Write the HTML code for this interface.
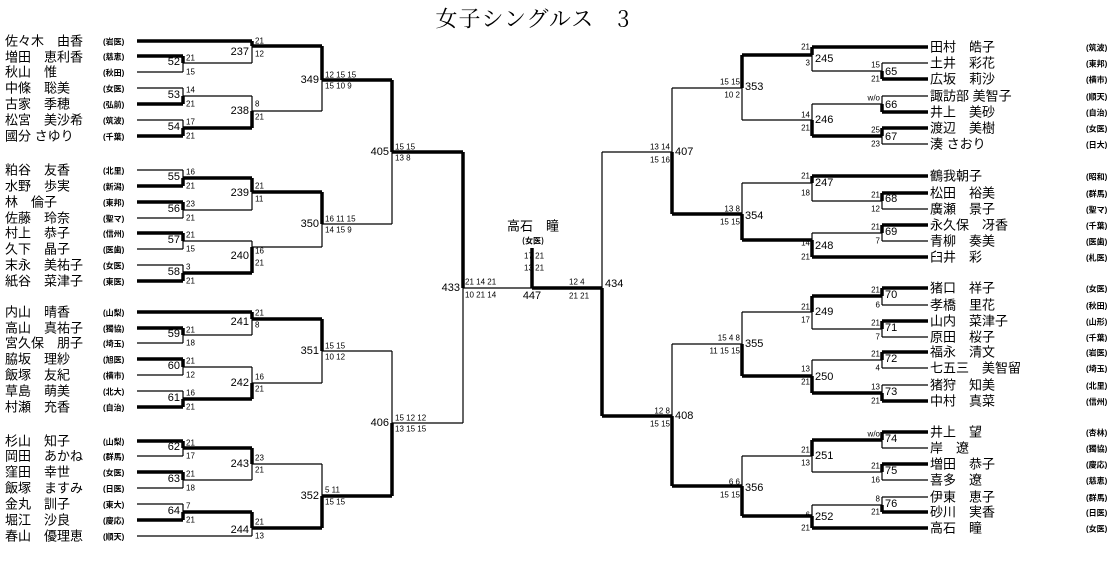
<!DOCTYPE html>
<html><head><meta charset="utf-8"><style>
html,body{margin:0;padding:0;background:#fff;}
svg{display:block;}
.t{stroke:#000;stroke-width:1.2;fill:none;}
.k{stroke:#000;stroke-width:3.5;fill:none;}
text{font-family:"Liberation Sans","Noto Sans CJK JP",sans-serif;fill:#000;dominant-baseline:central;}
.nm{font-size:13px;font-family:"Noto Sans CJK JP","Liberation Sans",sans-serif;}
.af{font-size:8px;font-weight:bold;font-family:"Noto Sans CJK JP",sans-serif;}
.n{font-size:11px;}
.s{font-size:8px;}
.e{text-anchor:end;}
.m{text-anchor:middle;}
</style></head><body>
<svg width="1120" height="561" viewBox="0 0 1120 561" xmlns="http://www.w3.org/2000/svg">
<text x="533" y="18" class="m" style="font-size:22px;letter-spacing:1px;font-family:'Noto Serif CJK SC',serif">女子シングルス　3</text>

<!-- LEFT lines -->
<path class="t" d="M137 72H183M137 88H183M137 120H183M137 170H183M137 218H183M137 249H183M137 265H183M137 343H183M137 375H183M137 391H183M137 456H183M137 488H183M137 504H183M137 536H252
M183 56V72M183 88V104M183 120V136M183 170V186M183 202V218M183 233V249M183 265V281M183 328V343M183 359V375M183 391V407M183 441V456M183 472V488M183 504V520
M183 63H252M183 96H252M183 210H252M183 241H252M183 335H252M183 367H252M183 480H252
M252 41V63M252 96V128M252 178V210M252 241V273M252 312V335M252 367V399M252 448V480M252 512V536
M252 111H322M252 247H322M252 383H322M252 464H322
M322 46V111M322 192V247M322 319V383M322 464V528
M322 224H392M322 351H392
M392 80V224M392 351V496M392 423H463
M463 152V423M463 288H532"/>
<path class="k" d="M137 41H252M137 56H183M137 104H183M137 136H183M137 186H183M137 202H183M137 233H183M137 281H183M137 312H252M137 328H183M137 359H183M137 407H183M137 441H183M137 472H183M137 520H183
M183 56V63M183 104V96M183 136V128M183 186V178M183 202V210M183 233V241M183 281V273M183 328V335M183 359V367M183 407V399M183 441V448M183 472V480M183 520V512
M183 128H252M183 178H252M183 273H252M183 399H252M183 448H252M183 512H252
M252 41V46M252 128V111M252 178V192M252 273V247M252 312V319M252 399V383M252 448V464M252 512V528
M252 46H322M252 192H322M252 319H322M252 528H322
M322 46V80M322 192V224M322 319V351M322 528V496
M322 80H392M322 496H392
M392 80V152M392 496V423M392 152H463
M463 152V288
M532 248V288M532 288H602"/>

<!-- RIGHT lines -->
<path class="t" d="M602 152V416M672 88V214M672 344V486M672 152H602
M742 55V120M742 183V240M742 312V376M742 456V516M742 88H672M742 344H672
M812 47V71M812 104V136M812 176V201M812 233V257M812 296V329M812 360V393M812 440V472M812 505V528
M812 120H742M812 183H742M812 312H742M812 456H742
M882 63V79M882 96V112M882 128V144M882 193V209M882 225V241M882 288V305M882 321V337M882 352V368M882 385V401M882 432V448M882 464V480M882 497V512
M882 71H812M882 104H812M882 201H812M882 233H812M882 329H812M882 360H812M882 472H812M882 505H812
M882 63H928M882 96H928M882 144H928M882 209H928M882 241H928M882 305H928M882 337H928M882 368H928M882 385H928M882 448H928M882 480H928M882 497H928"/>
<path class="k" d="M602 416V288M672 214V152M672 486V416M672 416H602
M742 55V88M742 240V214M742 376V344M742 516V486M742 214H672M742 486H672
M812 47V55M812 136V120M812 176V183M812 257V240M812 296V312M812 393V376M812 440V456M812 528V516
M812 55H742M812 240H742M812 376H742M812 516H742
M882 79V71M882 112V104M882 128V136M882 193V201M882 225V233M882 288V296M882 321V329M882 352V360M882 401V393M882 432V440M882 464V472M882 512V505
M882 136H812M882 296H812M882 393H812M882 440H812
M812 47H928M882 79H928M882 112H928M882 128H928M812 176H928M882 193H928M882 225H928M812 257H928M882 288H928M882 321H928M882 352H928M882 401H928M882 432H928M882 464H928M882 512H928M812 528H928"/>

<!-- LEFT names -->
<g class="nm">
<text x="5" y="41">佐々木　由香</text><text x="5" y="57">増田　恵利香</text><text x="5" y="72">秋山　惟</text><text x="5" y="88">中條　聡美</text><text x="5" y="104">古家　季穂</text><text x="5" y="120">松宮　美沙希</text><text x="5" y="136">國分 さゆり</text>
<text x="5" y="170">粕谷　友香</text><text x="5" y="186">水野　歩実</text><text x="5" y="202">林　倫子</text><text x="5" y="218">佐藤　玲奈</text><text x="5" y="233">村上　恭子</text><text x="5" y="249">久下　晶子</text><text x="5" y="265">末永　美祐子</text><text x="5" y="281">紙谷　菜津子</text>
<text x="5" y="312">内山　晴香</text><text x="5" y="328">高山　真祐子</text><text x="5" y="343">宮久保　朋子</text><text x="5" y="359">脇坂　理紗</text><text x="5" y="375">飯塚　友紀</text><text x="5" y="391">草島　萌美</text><text x="5" y="407">村瀬　充香</text>
<text x="5" y="441">杉山　知子</text><text x="5" y="456">岡田　あかね</text><text x="5" y="472">窪田　幸世</text><text x="5" y="488">飯塚　ますみ</text><text x="5" y="504">金丸　訓子</text><text x="5" y="520">堀江　沙良</text><text x="5" y="536">春山　優理恵</text>
</g>
<g class="af">
<text x="103" y="42">(岩医)</text><text x="103" y="57">(慈恵)</text><text x="103" y="73">(秋田)</text><text x="103" y="89">(女医)</text><text x="103" y="105">(弘前)</text><text x="103" y="121">(筑波)</text><text x="103" y="137">(千葉)</text>
<text x="103" y="171">(北里)</text><text x="103" y="187">(新潟)</text><text x="103" y="203">(東邦)</text><text x="103" y="219">(聖マ)</text><text x="103" y="234">(信州)</text><text x="103" y="250">(医歯)</text><text x="103" y="266">(女医)</text><text x="103" y="282">(東医)</text>
<text x="103" y="313">(山梨)</text><text x="103" y="329">(獨協)</text><text x="103" y="344">(埼玉)</text><text x="103" y="360">(旭医)</text><text x="103" y="376">(横市)</text><text x="103" y="392">(北大)</text><text x="103" y="408">(自治)</text>
<text x="103" y="442">(山梨)</text><text x="103" y="457">(群馬)</text><text x="103" y="473">(女医)</text><text x="103" y="489">(日医)</text><text x="103" y="505">(東大)</text><text x="103" y="521">(慶応)</text><text x="103" y="537">(順天)</text>
</g>

<!-- LEFT match numbers -->
<g class="n e">
<text x="180" y="62">52</text><text x="180" y="95">53</text><text x="180" y="127">54</text><text x="180" y="177">55</text><text x="180" y="209">56</text><text x="180" y="240">57</text><text x="180" y="272">58</text><text x="180" y="334">59</text><text x="180" y="366">60</text><text x="180" y="398">61</text><text x="180" y="447">62</text><text x="180" y="479">63</text><text x="180" y="511">64</text>
<text x="249" y="52">237</text><text x="249" y="111">238</text><text x="249" y="193">239</text><text x="249" y="256">240</text><text x="249" y="322">241</text><text x="249" y="383">242</text><text x="249" y="464">243</text><text x="249" y="530">244</text>
<text x="319" y="80">349</text><text x="319" y="224">350</text><text x="319" y="351">351</text><text x="319" y="496">352</text>
<text x="389" y="152">405</text><text x="389" y="423">406</text><text x="460" y="288">433</text>
</g>
<!-- LEFT scores -->
<g class="s">
<text x="186" y="58">21</text><text x="186" y="72">15</text><text x="186" y="90">14</text><text x="186" y="104">21</text><text x="186" y="122">17</text><text x="186" y="136">21</text>
<text x="186" y="172">16</text><text x="186" y="186">21</text><text x="186" y="204">23</text><text x="186" y="218">21</text><text x="186" y="235">21</text><text x="186" y="249">15</text><text x="186" y="267">3</text><text x="186" y="281">21</text>
<text x="186" y="330">21</text><text x="186" y="343">18</text><text x="186" y="361">21</text><text x="186" y="375">12</text><text x="186" y="393">16</text><text x="186" y="407">21</text>
<text x="186" y="443">21</text><text x="186" y="456">17</text><text x="186" y="474">21</text><text x="186" y="488">18</text><text x="186" y="506">7</text><text x="186" y="520">21</text>
<text x="255" y="41">21</text><text x="255" y="54">12</text><text x="255" y="104">8</text><text x="255" y="117">21</text><text x="255" y="186">21</text><text x="255" y="199">11</text><text x="255" y="251">16</text><text x="255" y="263">21</text>
<text x="255" y="313">21</text><text x="255" y="325">8</text><text x="255" y="377">16</text><text x="255" y="389">21</text><text x="255" y="458">23</text><text x="255" y="470">21</text><text x="255" y="522">21</text><text x="255" y="536">13</text>
<text x="325" y="75">12 15 15</text><text x="325" y="86">15 10 9</text><text x="325" y="219">16 11 15</text><text x="325" y="230">14 15 9</text>
<text x="325" y="346">15 15</text><text x="325" y="357">10 12</text><text x="325" y="490">5 11</text><text x="325" y="502">15 15</text>
<text x="395" y="147">15 15</text><text x="395" y="158">13 8</text><text x="395" y="418">15 12 12</text><text x="395" y="429">13 15 15</text>
<text x="465" y="282">21 14 21</text><text x="465" y="295">10 21 14</text>
<text x="524" y="256">17 21</text><text x="524" y="268">13 21</text>
<text x="569" y="282">12 4</text><text x="569" y="296">21 21</text>
</g>
<text x="532" y="296" class="n m">447</text>
<text x="533" y="225" class="nm m">高石　瞳</text>
<text x="533" y="241" class="af m">(女医)</text>
<text x="605" y="284" class="n">434</text>

<!-- RIGHT names -->
<g class="nm">
<text x="930" y="47">田村　皓子</text><text x="930" y="63">土井　彩花</text><text x="930" y="79">広坂　莉沙</text><text x="930" y="96">諏訪部 美智子</text><text x="930" y="112">井上　美砂</text><text x="930" y="128">渡辺　美樹</text><text x="930" y="144">湊 さおり</text>
<text x="930" y="176">鶴我朝子</text><text x="930" y="193">松田　裕美</text><text x="930" y="209">廣瀬　景子</text><text x="930" y="225">永久保　冴香</text><text x="930" y="241">青柳　奏美</text><text x="930" y="257">臼井　彩</text>
<text x="930" y="288">猪口　祥子</text><text x="930" y="305">孝橋　里花</text><text x="930" y="321">山内　菜津子</text><text x="930" y="337">原田　桜子</text><text x="930" y="352">福永　清文</text><text x="930" y="368">七五三　美智留</text><text x="930" y="385">猪狩　知美</text><text x="930" y="401">中村　真菜</text>
<text x="930" y="432">井上　望</text><text x="930" y="448">岸　遼</text><text x="930" y="464">増田　恭子</text><text x="930" y="480">喜多　遼</text><text x="930" y="497">伊東　恵子</text><text x="930" y="512">砂川　実香</text><text x="930" y="528">高石　瞳</text>
</g>
<g class="af">
<text x="1086" y="48">(筑波)</text><text x="1086" y="64">(東邦)</text><text x="1086" y="80">(横市)</text><text x="1086" y="97">(順天)</text><text x="1086" y="113">(自治)</text><text x="1086" y="129">(女医)</text><text x="1086" y="145">(日大)</text>
<text x="1086" y="177">(昭和)</text><text x="1086" y="194">(群馬)</text><text x="1086" y="210">(聖マ)</text><text x="1086" y="226">(千葉)</text><text x="1086" y="242">(医歯)</text><text x="1086" y="258">(札医)</text>
<text x="1086" y="289">(女医)</text><text x="1086" y="306">(秋田)</text><text x="1086" y="322">(山形)</text><text x="1086" y="338">(千葉)</text><text x="1086" y="353">(岩医)</text><text x="1086" y="369">(埼玉)</text><text x="1086" y="386">(北里)</text><text x="1086" y="402">(信州)</text>
<text x="1086" y="433">(杏林)</text><text x="1086" y="449">(獨協)</text><text x="1086" y="465">(慶応)</text><text x="1086" y="481">(慈恵)</text><text x="1086" y="498">(群馬)</text><text x="1086" y="513">(日医)</text><text x="1086" y="529">(女医)</text>
</g>

<!-- RIGHT match numbers -->
<g class="n">
<text x="885" y="72">65</text><text x="885" y="105">66</text><text x="885" y="137">67</text><text x="885" y="199">68</text><text x="885" y="232">69</text><text x="885" y="295">70</text><text x="885" y="328">71</text><text x="885" y="359">72</text><text x="885" y="392">73</text><text x="885" y="439">74</text><text x="885" y="471">75</text><text x="885" y="504">76</text>
<text x="815" y="59">245</text><text x="815" y="120">246</text><text x="815" y="183">247</text><text x="815" y="246">248</text><text x="815" y="312">249</text><text x="815" y="377">250</text><text x="815" y="456">251</text><text x="815" y="517">252</text>
<text x="745" y="87">353</text><text x="745" y="216">354</text><text x="745" y="344">355</text><text x="745" y="488">356</text>
<text x="675" y="152">407</text><text x="675" y="416">408</text>
</g>
<!-- RIGHT scores -->
<g class="s e">
<text x="880" y="65">15</text><text x="880" y="79">21</text><text x="880" y="98">w/o</text><text x="880" y="130">25</text><text x="880" y="144">23</text>
<text x="880" y="195">21</text><text x="880" y="209">12</text><text x="880" y="227">21</text><text x="880" y="241">7</text>
<text x="880" y="290">21</text><text x="880" y="305">6</text><text x="880" y="323">21</text><text x="880" y="337">7</text><text x="880" y="354">21</text><text x="880" y="368">4</text><text x="880" y="387">13</text><text x="880" y="401">21</text>
<text x="880" y="434">w/o</text><text x="880" y="466">21</text><text x="880" y="480">16</text><text x="880" y="499">8</text><text x="880" y="512">21</text>
<text x="810" y="47">21</text><text x="810" y="63">3</text><text x="810" y="115">14</text><text x="810" y="128">21</text><text x="810" y="176">21</text><text x="810" y="193">18</text><text x="810" y="243">14</text><text x="810" y="257">21</text>
<text x="810" y="307">21</text><text x="810" y="320">17</text><text x="810" y="369">13</text><text x="810" y="382">21</text><text x="810" y="450">21</text><text x="810" y="463">13</text><text x="810" y="515">6</text><text x="810" y="528">21</text>
<text x="740" y="82">15 15</text><text x="740" y="95">10 2</text><text x="740" y="209">13 8</text><text x="740" y="222">15 15</text>
<text x="740" y="338">15 4 8</text><text x="740" y="351">11 15 15</text><text x="740" y="482">6 6</text><text x="740" y="495">15 15</text>
<text x="670" y="147">13 14</text><text x="670" y="160">15 16</text><text x="670" y="411">12 8</text><text x="670" y="424">15 15</text>
</g>
</svg>
</body></html>
